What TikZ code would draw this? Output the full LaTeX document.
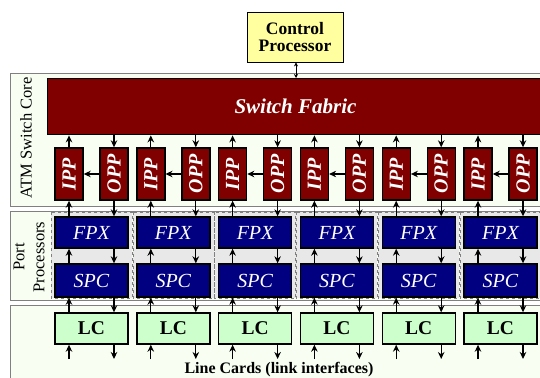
\documentclass[tikz,border=0pt]{standalone}
\usepackage{fontspec}
\setmainfont{Liberation Serif}
\newfontfamily\timesfont{Liberation Serif}
\usepackage{xcolor}
\usetikzlibrary{arrows.meta}

\definecolor{fabricred}{RGB}{128,0,0}
\definecolor{portblue}{RGB}{0,0,128}
\definecolor{cpyellow}{RGB}{255,255,160}
\definecolor{lcgreen}{RGB}{204,255,204}
\definecolor{panelbg}{RGB}{248,255,242}
\definecolor{colgray}{RGB}{232,232,232}

\begin{document}
\begin{tikzpicture}[x=1pt,y=-1pt,
    every node/.append style={font=\timesfont},
    panel/.style={draw=gray,fill=panelbg,line width=0.8pt},
    column/.style={draw=gray,dashed,fill=colgray,line width=0.5pt},
    redbox/.style={draw=black,line width=1.4pt,fill=fabricred,text=white,inner sep=0pt,
        minimum width=28pt,minimum height=52pt,font=\timesfont\fontsize{20}{20}\selectfont\bfseries\itshape},
    bluebox/.style={draw=black,line width=1.4pt,fill=portblue,text=white,inner sep=0pt,
        minimum width=73pt,font=\timesfont\fontsize{20}{20}\selectfont\itshape},
    lcbox/.style={draw=black,line width=1.4pt,fill=lcgreen,inner sep=0pt,
        minimum width=73pt,minimum height=31pt,font=\timesfont\fontsize{19.5}{20}\selectfont\bfseries},
    link/.style={line width=1.2pt,-{Stealth[length=7pt,width=6.5pt]}},
    sidelabel/.style={rotate=90,align=center,font=\timesfont\fontsize{16.5}{20}\selectfont}]
                \useasboundingbox (0,0) rectangle (540,377);
                \clip (0,0) rectangle (540,377);
                % panels
                \draw [panel] (10,73) rectangle (548,206);
                \draw [panel] (10,211) rectangle (548,300);
                \draw [panel] (10,305) rectangle (548,385);
                \node [sidelabel] (corelabel) at (26,138) {ATM Switch Core};
                \node [sidelabel] (portlabel) at (29,257) {Port\\Processors};
                \node [font=\timesfont\fontsize{16}{16}\selectfont\bfseries, anchor=base] (lclabel) at (279,373) {Line Cards (link interfaces)};
                % control processor and fabric
                \node [draw=black, line width=0.8pt, fill=cpyellow, minimum width=96pt, minimum height=50pt, inner sep=0pt,
                       align=center, font=\timesfont\fontsize{17.5}{17}\selectfont\bfseries] (cp) at (295,37) {Control\\Processor};
                \node [draw=black, line width=1.4pt, fill=fabricred, minimum width=500pt, minimum height=56pt,
                       inner sep=0pt, anchor=north west] (fab) at (47,78) {};
                \node [text=white, font=\timesfont\fontsize{21}{21}\selectfont\bfseries\itshape] (fabtext) at (295.5,106) {Switch Fabric};
                \draw [line width=0.6pt, {Stealth[length=4pt,width=4pt]}-{Stealth[length=4pt,width=4pt]}] (cp.south -| 296,0) -- (296,78);
                % one column per port
                \foreach \i in {1,...,6} {
                    \pgfmathsetmacro\xl{55+81.8*(\i-1)}
                    \draw [column] (\xl-4,212) rectangle (\xl+77,298);
                    \node [redbox] (ipp\i) at (\xl+14,174) {\rotatebox{90}{IPP}};
                    \node [redbox] (opp\i) at (\xl+59,174) {\rotatebox{90}{OPP}};
                    \node [bluebox, minimum height=31pt] (fpx\i) at (\xl+36.5,232.5) {FPX};
                    \node [bluebox, minimum height=33pt] (spc\i) at (\xl+36.5,280.5) {SPC};
                    \node [lcbox] (lc\i) at (\xl+36.5,328.5) {LC};
                    \coordinate (lin\i) at (\xl+14,359);
                    \coordinate (lout\i) at (\xl+59,359);
                    \draw [link] (ipp\i) -- (ipp\i |- fab.south);
                    \draw [link] (opp\i |- fab.south) -- (opp\i);
                    \draw [link] (opp\i) -- (ipp\i);
                    \draw [link] (ipp\i |- fpx\i.north) -- (ipp\i);
                    \draw [link] (opp\i) -- (opp\i |- fpx\i.north);
                    \draw [link] (ipp\i |- spc\i.north) -- (ipp\i |- fpx\i.south);
                    \draw [link] (opp\i |- fpx\i.south) -- (opp\i |- spc\i.north);
                    \draw [link] (ipp\i |- lc\i.north) -- (ipp\i |- spc\i.south);
                    \draw [link] (opp\i |- spc\i.south) -- (opp\i |- lc\i.north);
                    \draw [link] (lin\i) -- (lin\i |- lc\i.south);
                    \draw [link] (lout\i |- lc\i.south) -- (lout\i);
                }
            \end{tikzpicture}
\end{document}
